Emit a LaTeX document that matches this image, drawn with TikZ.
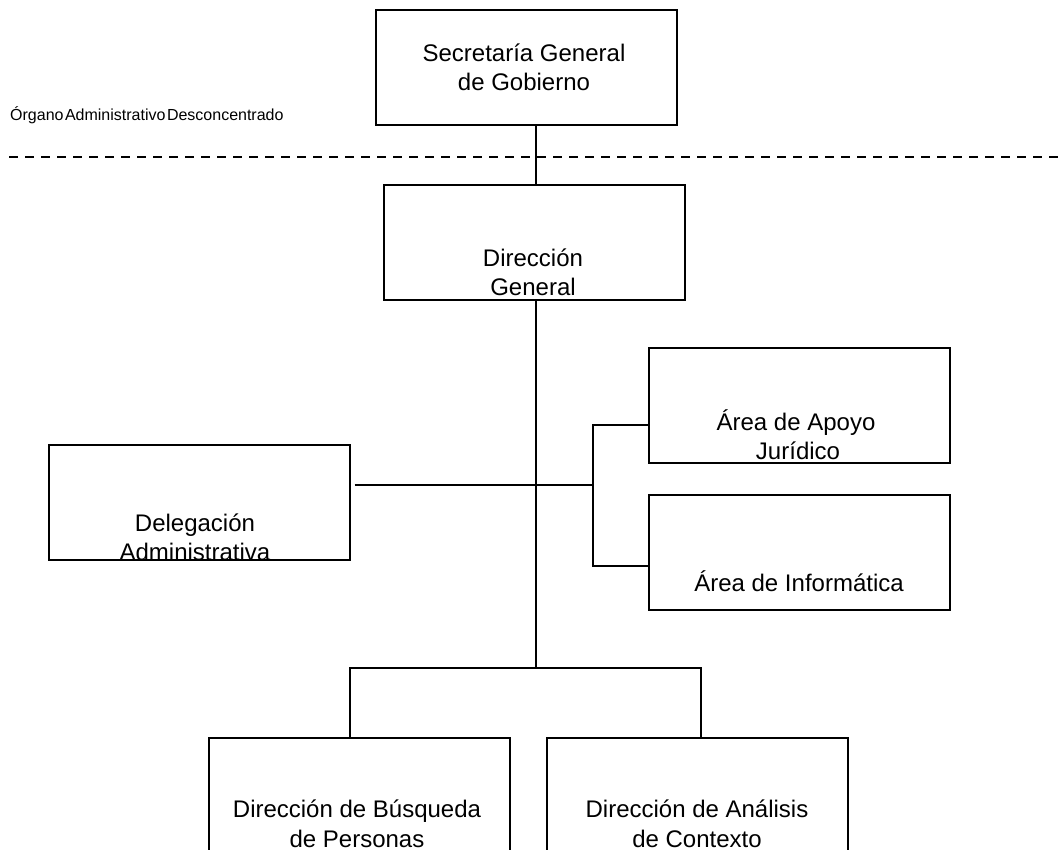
\documentclass[tikz,border=0pt]{standalone}
\usepackage{fontspec}
\setmainfont{Liberation Sans}
\begin{document}
\begin{tikzpicture}[x=1pt,y=-1pt,
  orgbox/.style={draw, line width=1.6pt, minimum width=301pt, minimum height=115pt, inner sep=0pt, anchor=north west},
  orgtxt/.style={font=\fontsize{24}{29}\selectfont, inner sep=0pt, anchor=base},
  link/.style={line width=1.6pt},
  divider/.style={line width=1.8pt, dash pattern=on 9pt off 7pt}]
\useasboundingbox (0,0) rectangle (1060,850);
\clip (0,0) rectangle (1060,850);
% boxes
\node[orgbox] (sec) at (375,9) {};
\node[orgbox] (dg) at (383,184) {};
\node[orgbox] (aj) at (648,347) {};
\node[orgbox] (ai) at (648,494) {};
\node[orgbox] (del) at (48,444) {};
\node[orgbox] (dbp) at (208,737) {};
\node[orgbox] (dac) at (546,737) {};
% texts
\node[orgtxt] (secA) at (524,62) {Secretaría General};
\node[orgtxt] (secB) at (524,91) {de Gobierno};
\node[orgtxt] (dgA) at (533,267) {Dirección};
\node[orgtxt] (dgB) at (533,296) {General};
\node[orgtxt] (ajA) at (796,430) {Área de Apoyo};
\node[orgtxt] (ajB) at (798,459) {Jurídico};
\node[orgtxt] (aiA) at (799,591) {Área de Informática};
\node[orgtxt] (delA) at (195,531) {Delegación};
\node[orgtxt] (delB) at (195,560) {Administrativa};
\node[orgtxt] (dbpA) at (357,817) {Dirección de Búsqueda};
\node[orgtxt] (dbpB) at (357,847) {de Personas};
\node[orgtxt] (dacA) at (697,817) {Dirección de Análisis};
\node[orgtxt] (dacB) at (697,847) {de Contexto};
\node[anchor=base west, inner sep=0pt, font=\fontsize{16}{19}\selectfont] (org) at (10,121) {\spaceskip=1.5pt Órgano Administrativo Desconcentrado};
% divider
\coordinate (dl) at (9,157);
\coordinate (dr) at (1060,157);
\draw[divider] (dl) -- (dr);
% connectors
\coordinate (spine) at (536,0);
\coordinate (hub) at (536,668);
\coordinate (bl) at (350,668);
\coordinate (br) at (701,668);
\coordinate (bt) at (593,425);
\coordinate (bb) at (593,566);
\coordinate (dj) at (593,485);
\draw[link] (sec.south -| spine) -- (dg.north -| spine);
\draw[link] (dg.south -| spine) -- (hub);
\draw[link] (bl |- dbp.north) -- (bl) -- (br) -- (br |- dac.north);
\draw[link] (aj.west |- bt) -- (bt) -- (bb) -- (ai.west |- bb);
\draw[link] ([xshift=4pt]del.east |- dj) -- (dj);
\end{tikzpicture}
\end{document}
